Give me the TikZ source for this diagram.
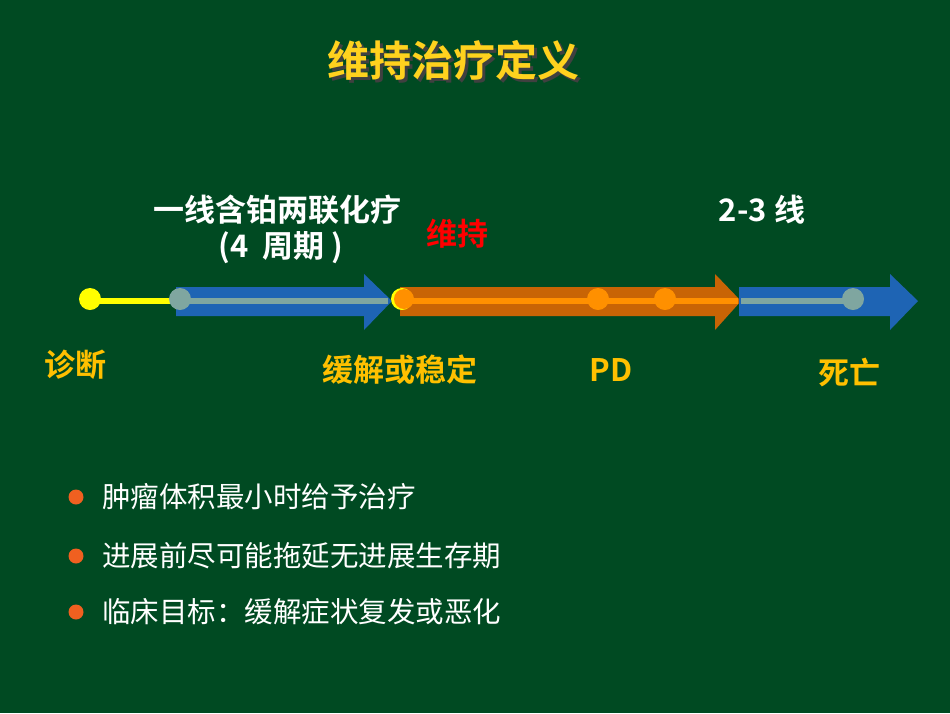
\documentclass[tikz,border=0pt]{standalone}
\usepackage{fontspec}
\setmainfont{Liberation Sans}
\newfontfamily\cjk{Noto Sans CJK SC}
\newfontfamily\cjkb{Noto Sans CJK SC Bold}
\definecolor{bg}{HTML}{004A22}
\definecolor{ttl}{HTML}{FFD21E}
\definecolor{lbl}{HTML}{FFC000}
\definecolor{blu}{HTML}{1E64B4}
\definecolor{bline}{HTML}{7FA6A0}
\definecolor{org}{HTML}{C86405}
\definecolor{oline}{HTML}{FF9000}
\definecolor{ylw}{HTML}{FFFF00}
\definecolor{bul}{HTML}{F06020}
\tikzset{
 lab/.style={font=\cjkb\fontsize{31}{34}\selectfont, text=lbl, anchor=center, inner sep=0},
 wlab/.style={font=\cjkb\fontsize{31}{34}\selectfont, text=white, anchor=center, inner sep=0},
 btxt/.style={font=\cjk\fontsize{28.5}{32}\selectfont, text=white, anchor=west, inner sep=0},
 bdot/.style={circle, fill=bul, minimum size=15pt, inner sep=0},
}
\begin{document}
\begin{tikzpicture}[x=1pt,y=-1pt]
\fill[bg] (0,0) rectangle (950,713);
\useasboundingbox (0,0) rectangle (950,713);
% title
\node (title) [font=\cjkb\fontsize{42}{46}\selectfont, text=ttl, inner sep=0] at (453,62)
 {\makebox[0pt][l]{\hspace{3pt}\raisebox{-3pt}{\color{black!75}维持治疗定义}}维持治疗定义};
% yellow start segment
\draw[ylw, line width=6] (90,301) -- (180,301);
\fill[ylw] (90,299) circle (11);
% arrows
\fill[blu] (176,287) -- (364,287) -- (364,274) -- (392,301) -- (364,330) -- (364,316) -- (176,316) -- cycle;
\fill[org] (400,287) -- (715,287) -- (715,274) -- (741,301) -- (715,330) -- (715,316) -- (400,316) -- cycle;
\fill[blu] (739,287) -- (890,287) -- (890,274) -- (918,301) -- (890,330) -- (890,316) -- (739,316) -- cycle;
\draw[bline, line width=6] (180,301) -- (388,301);
\draw[oline, line width=6] (402,301) -- (738,301);
\draw[bline, line width=6] (741,301) -- (853,301);
\fill[bline] (180,299) circle (11);
\fill[ylw] (402,299) circle (11);
\fill[oline] (404,299) circle (10);
\fill[oline] (598,299) circle (11);
\fill[oline] (665,299) circle (11);
\fill[bline] (853,299) circle (11);
% labels
\node[wlab] (l1) at (277,210) {一线含铂两联化疗};
\node[wlab] (l2) at (281,248) {(4\ \ 周期 )};
\node[lab, text=red] (l3) at (457,234) {维持};
\node[wlab] (l4) at (762,210) {2-3 线};
\node[lab] (a) at (75,365) {诊断};
\node[lab] (b) at (400,370) {缓解或稳定};
\node[lab] (c) at (611,370) {PD};
\node[lab] (d) at (849,372) {死亡};
% bullets
\node[bdot] (d1) at (76,497) {};
\node[btxt] (t1) at (102,497) {肿瘤体积最小时给予治疗};
\node[bdot] (d2) at (76,556) {};
\node[btxt] (t2) at (102,556) {进展前尽可能拖延无进展生存期};
\node[bdot] (d3) at (76,612) {};
\node[btxt] (t3) at (102,612) {临床目标：缓解症状复发或恶化};
\end{tikzpicture}
\end{document}
